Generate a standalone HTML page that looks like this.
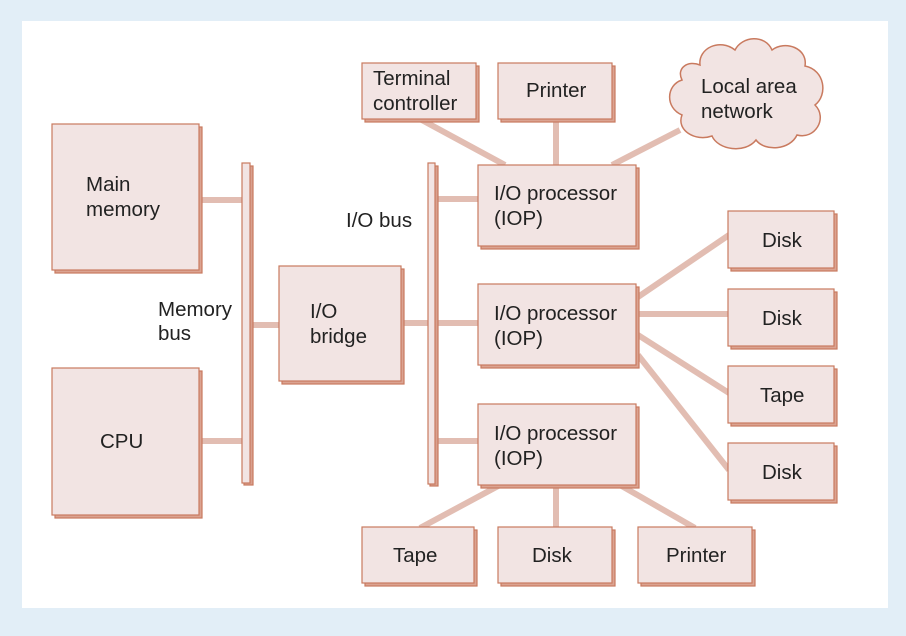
<!DOCTYPE html>
<html><head><style>
html,body{margin:0;padding:0;background:#e2eef7;}
svg{display:block;}
text{font-family:"Liberation Sans",sans-serif;font-size:20.5px;fill:#222;}
</style></head><body>
<svg width="906" height="636" viewBox="0 0 906 636" xmlns="http://www.w3.org/2000/svg">
<rect x="0" y="0" width="906" height="636" fill="#e2eef7"/>
<rect x="22" y="21" width="866" height="587" fill="#fff"/>
<g stroke="#e2bdb2" stroke-width="6" fill="none">
<line x1="199" y1="200" x2="243" y2="200"/>
<line x1="199" y1="441" x2="243" y2="441"/>
<line x1="251" y1="325" x2="280" y2="325"/>
<line x1="401" y1="323" x2="429" y2="323"/>
<line x1="436" y1="199" x2="479" y2="199"/>
<line x1="436" y1="323" x2="479" y2="323"/>
<line x1="436" y1="441" x2="479" y2="441"/>
<line x1="420" y1="119" x2="505" y2="165"/>
<line x1="556" y1="119" x2="556" y2="165"/>
<line x1="680" y1="130" x2="612" y2="165"/>
<line x1="638" y1="297" x2="729" y2="235"/>
<line x1="638" y1="314" x2="729" y2="314"/>
<line x1="638" y1="335" x2="729" y2="393"/>
<line x1="638" y1="355" x2="729" y2="470"/>
<line x1="500" y1="485" x2="420" y2="528"/>
<line x1="556" y1="485" x2="556" y2="528"/>
<line x1="620" y1="485" x2="695" y2="528"/>
</g>
<g stroke="#c97a5f" stroke-width="1.2">
<rect x="244" y="166" width="9" height="319" fill="#d9a08e"/>
<rect x="242" y="163" width="8" height="320" fill="#f2e4e3"/>
<rect x="430" y="166" width="8" height="320" fill="#d9a08e"/>
<rect x="428" y="163" width="7" height="321" fill="#f2e4e3"/>
</g>
<g stroke="#c97a5f" stroke-width="1.2">
<g fill="#dba391">
<rect x="55" y="127" width="147" height="146"/>
<rect x="55" y="371" width="147" height="147"/>
<rect x="282" y="269" width="122" height="115"/>
<rect x="481" y="168" width="158" height="81"/>
<rect x="481" y="287" width="158" height="81"/>
<rect x="481" y="407" width="158" height="81"/>
<rect x="365" y="66" width="114" height="56"/>
<rect x="501" y="66" width="114" height="56"/>
<rect x="731" y="214" width="106" height="57"/>
<rect x="731" y="292" width="106" height="57"/>
<rect x="731" y="369" width="106" height="57"/>
<rect x="731" y="446" width="106" height="57"/>
<rect x="365" y="530" width="112" height="56"/>
<rect x="501" y="530" width="114" height="56"/>
<rect x="641" y="530" width="114" height="56"/>
</g>
<g fill="#f2e4e3">
<rect x="52" y="124" width="147" height="146"/>
<rect x="52" y="368" width="147" height="147"/>
<rect x="279" y="266" width="122" height="115"/>
<rect x="478" y="165" width="158" height="81"/>
<rect x="478" y="284" width="158" height="81"/>
<rect x="478" y="404" width="158" height="81"/>
<rect x="362" y="63" width="114" height="56"/>
<rect x="498" y="63" width="114" height="56"/>
<rect x="728" y="211" width="106" height="57"/>
<rect x="728" y="289" width="106" height="57"/>
<rect x="728" y="366" width="106" height="57"/>
<rect x="728" y="443" width="106" height="57"/>
<rect x="362" y="527" width="112" height="56"/>
<rect x="498" y="527" width="114" height="56"/>
<rect x="638" y="527" width="114" height="56"/>
</g>
</g>
<path d="M700,65 C698,48 720,38 735,50 C742,36 765,34 772,50 C785,40 808,48 805,66 C825,70 828,95 815,105 C828,118 815,140 797,135 C790,150 765,152 756,140 C745,154 718,150 712,136 C695,142 676,130 682,115 C665,108 666,85 682,80 C676,68 688,60 700,65 Z" fill="#f2e4e3" stroke="#c97a5f" stroke-width="1.5"/>
<text x="86" y="191">Main</text>
<text x="86" y="216">memory</text>
<text x="100" y="448">CPU</text>
<text x="158" y="316">Memory</text>
<text x="158" y="340">bus</text>
<text x="310" y="318">I/O</text>
<text x="310" y="343">bridge</text>
<text x="346" y="227">I/O bus</text>
<text x="494" y="200">I/O processor</text>
<text x="494" y="225">(IOP)</text>
<text x="494" y="320">I/O processor</text>
<text x="494" y="345">(IOP)</text>
<text x="494" y="440">I/O processor</text>
<text x="494" y="465">(IOP)</text>
<text x="373" y="85">Terminal</text>
<text x="373" y="110">controller</text>
<text x="526" y="97">Printer</text>
<text x="701" y="93">Local area</text>
<text x="701" y="118">network</text>
<text x="762" y="247">Disk</text>
<text x="762" y="325">Disk</text>
<text x="760" y="402">Tape</text>
<text x="762" y="479">Disk</text>
<text x="393" y="562">Tape</text>
<text x="532" y="562">Disk</text>
<text x="666" y="562">Printer</text>
</svg>
</body></html>
